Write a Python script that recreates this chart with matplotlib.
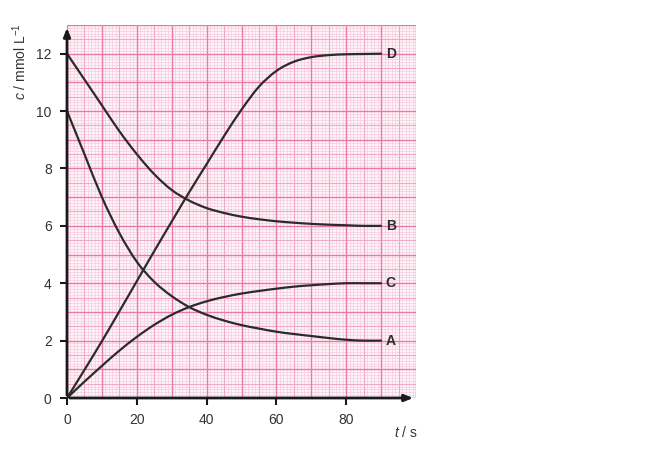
import matplotlib
matplotlib.use("Agg")
import matplotlib.pyplot as plt
from matplotlib.path import Path
from matplotlib.patches import PathPatch
import numpy as np

plt.rcParams['font.family'] = ['Liberation Sans', 'DejaVu Sans']
plt.rcParams['mathtext.fontset'] = 'custom'
plt.rcParams['mathtext.rm'] = 'Liberation Sans'
plt.rcParams['mathtext.it'] = 'Liberation Sans:italic'

# Data
t = [0, 5, 10, 15, 20, 25, 30, 35, 40, 45, 50, 55, 60, 65, 70, 75, 80, 85, 90]
A = [10, 8.5, 7.0, 5.75, 4.75, 4.05, 3.55, 3.17, 2.9, 2.7, 2.54, 2.42, 2.31, 2.23, 2.16, 2.09, 2.03, 2.0, 2.0]
B = [12, 11.1, 10.2, 9.3, 8.5, 7.8, 7.25, 6.88, 6.62, 6.45, 6.32, 6.23, 6.16, 6.11, 6.07, 6.04, 6.02, 6.0, 6.0]
C = [0, 0.57, 1.12, 1.65, 2.13, 2.55, 2.9, 3.17, 3.37, 3.52, 3.64, 3.73, 3.81, 3.88, 3.93, 3.97, 4.0, 4.0, 4.0]
D = [0, 0.98, 1.98, 3.02, 4.07, 5.12, 6.15, 7.17, 8.15, 9.13, 10.05, 10.85, 11.4, 11.72, 11.88, 11.95, 11.98, 11.99, 12.0]
series = {'A': A, 'B': B, 'C': C, 'D': D}
xticks = [0, 20, 40, 60, 80]
yticks = [0, 2, 4, 6, 8, 10, 12]


def smooth_path(xs, ys):
    """Catmull-Rom through the read points, drawn as cubic Bezier segments."""
    p = np.column_stack([xs, ys]).astype(float)
    n = len(p)
    verts = [p[0]]
    codes = [Path.MOVETO]
    for i in range(n - 1):
        p0 = p[i - 1] if i > 0 else p[i]
        p1, p2 = p[i], p[i + 1]
        p3 = p[i + 2] if i + 2 < n else p[i + 1]
        c1 = p1 + (p2 - p0) / 6.0
        c2 = p2 - (p3 - p1) / 6.0
        verts += [c1, c2, p2]
        codes += [Path.CURVE4] * 3
    return Path(verts, codes)


fig = plt.figure(figsize=(6.62, 4.61), dpi=100)
W, H = 662, 461
ax = fig.add_axes([67 / W, 1 - 398 / H, (416 - 67) / W, (398 - 25) / H])
ax.set_xlim(0, 100)
ax.set_ylim(0, 13)
ax.set_facecolor('#fdf5f8')

# graph-paper grid
minor_c, mid_c, major_c = '#f8d2e2', '#f2a8c8', '#e97aa9'
for xv in np.arange(0, 101, 1):
    if xv % 10 == 0:
        ax.axvline(xv, color=major_c, lw=1.0, zorder=0.3)
    elif xv % 5 == 0:
        ax.axvline(xv, color=mid_c, lw=0.8, zorder=0.2)
    else:
        ax.axvline(xv, color=minor_c, lw=0.6, zorder=0.1)
for i in range(0, 131):
    yv = i / 10
    if i % 10 == 0:
        ax.axhline(yv, color=major_c, lw=1.0, zorder=0.3)
    elif i % 5 == 0:
        ax.axhline(yv, color=mid_c, lw=0.8, zorder=0.2)
    else:
        ax.axhline(yv, color=minor_c, lw=0.6, zorder=0.1)

for name, vals in series.items():
    patch = PathPatch(smooth_path(t, vals), facecolor='none', edgecolor='#2b2b2b',
                      lw=1.6, zorder=3, capstyle='round', transform=ax.transData)
    ax.add_patch(patch)
    ax.text(t[-1] + 1.3, vals[-1], name, fontsize=10, fontweight='bold',
            color='#2b2b2b', ha='left', va='center', zorder=4)

for s in ax.spines.values():
    s.set_visible(False)

ax.annotate('', xy=(100, 0), xytext=(0, 0),
            arrowprops=dict(arrowstyle='-|>,head_length=0.5,head_width=0.2', color='#1a1a1a', lw=2),
            annotation_clip=False, zorder=5)
ax.annotate('', xy=(0, 13), xytext=(0, 0),
            arrowprops=dict(arrowstyle='-|>,head_length=0.5,head_width=0.2', color='#1a1a1a', lw=2),
            annotation_clip=False, zorder=5)

ax.set_xticks(xticks)
ax.set_yticks(yticks)
ax.set_xticklabels([str(v) for v in xticks])
ax.set_yticklabels([str(v) for v in yticks])
ax.tick_params(direction='out', length=5, width=1.5, color='#1a1a1a',
               labelsize=10, labelcolor='#333333', pad=6)

fig.text(20 / W, 1 - 62 / H, r'$c$ / mmol L$^{-1}$', rotation=90, ha='center', va='center',
         fontsize=10, color='#333333')
fig.text(406 / W, 1 - 432 / H, r'$t$ / s', ha='center', va='center', fontsize=10, color='#333333')

fig.savefig('out.png', dpi=100)
